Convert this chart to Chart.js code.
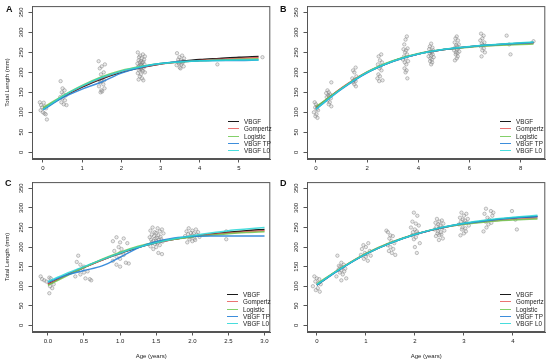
<!DOCTYPE html>
<html>
<head>
<meta charset="utf-8">
<script src="https://cdn.jsdelivr.net/npm/chart.js@4.4.0/dist/chart.umd.min.js"></script>
<style>
  body { margin: 0; background: #fff; font-family: "Liberation Sans", Arial, sans-serif; }
  #wrap { position: relative; width: 550px; height: 364px; overflow: hidden; }
  canvas { position: absolute; }
  .tag { position: absolute; font-weight: bold; font-size: 9px; color: #111; z-index: 2; }
  .legend { position: absolute; font-size: 6.3px; color: #222; z-index: 2; }
  .legend div { display: flex; align-items: center; height: 7.3px; white-space: nowrap; }
  .legend span { display: inline-block; width: 11px; height: 0; border-top: 1.6px solid; margin-right: 5px; }
</style>
</head>
<body>
<div id="wrap">
  <canvas id="cA" width="275" height="182" style="left:0;top:0"></canvas>
  <canvas id="cB" width="275" height="182" style="left:275px;top:0"></canvas>
  <canvas id="cC" width="275" height="188" style="left:0;top:176px"></canvas>
  <canvas id="cD" width="275" height="188" style="left:275px;top:176px"></canvas>
  <div class="tag" style="left:6px;top:4px">A</div>
  <div class="tag" style="left:280px;top:4px">B</div>
  <div class="tag" style="left:5px;top:178px">C</div>
  <div class="tag" style="left:280px;top:178px">D</div>
  <div class="legend" id="legA" style="left:228px;top:118px"></div>
  <div class="legend" id="legB" style="left:500px;top:118px"></div>
  <div class="legend" id="legC" style="left:227px;top:291px"></div>
  <div class="legend" id="legD" style="left:500px;top:291px"></div>
</div>
<script>
// model names and tick labels
const seriesNames = ['VBGF', 'Gompertz', 'Logistic', 'VBGF TP', 'VBGF L0'];
const lengthTicks = [0, 50, 100, 150, 200, 250, 300, 350];
const ageTicksA = [0, 1, 2, 3, 4, 5];
const ageTicksB = [0, 2, 4, 6, 8];
const ageTicksC = [0, 0.5, 1, 1.5, 2, 2.5, 3];
const ageTicksD = [0, 1, 2, 3, 4];

// panel A - observed fish
const obsAgeA = [
  -0.08, -0.05, -0.02, 0.02, 0.05, 0.08, -0.06, 0.0, 0.04, 0.07, 0.1,
  0.45, 0.5, 0.55, 0.48, 0.52, 0.58, 0.44, 0.5, 0.56, 0.47, 0.53, 0.6,
  1.42, 1.58, 1.5, 1.45, 1.55, 1.48, 1.52, 1.44, 1.56, 1.5, 1.46, 1.54, 1.43, 1.57, 1.49, 1.51, 1.47,
  2.42, 2.55, 2.48, 2.6, 2.45, 2.52, 2.58, 2.44, 2.5, 2.56, 2.47, 2.53, 2.41, 2.59, 2.49, 2.51,
  2.46, 2.54, 2.43, 2.57, 2.5, 2.48, 2.52, 2.45, 2.55, 2.6, 2.42, 2.5, 2.47, 2.53, 2.44, 2.56,
  3.42, 3.55, 3.48, 3.6, 3.45, 3.52, 3.58, 3.44, 3.5, 3.56, 3.47, 3.53, 3.41, 3.59, 3.49, 3.51,
  4.45, 5.6
];
const obsLenA = [
  125, 118, 112, 124, 115, 110, 105, 100, 97, 95, 82,
  178, 160, 155, 150, 145, 142, 138, 135, 130, 125, 120, 118,
  228, 220, 215, 210, 200, 195, 185, 182, 180, 178, 175, 170, 165, 160, 155, 152, 150,
  250, 245, 242, 240, 238, 235, 232, 230, 228, 226, 225, 224, 222, 220, 219, 218,
  216, 215, 214, 212, 210, 208, 206, 205, 203, 200, 198, 195, 190, 185, 182, 180,
  248, 242, 238, 235, 232, 230, 228, 226, 225, 224, 222, 220, 218, 215, 212, 210,
  220, 238
];
// panel A - fitted curves
const curveAgeA = [0, 0.5, 1, 1.5, 2, 2.5, 3, 3.5, 4, 4.5, 5, 5.5];
const vbgfA = [108, 138, 163, 184, 200, 212, 221, 227, 232, 235, 238, 240];
const gompA = [109, 139, 165, 186, 202, 213, 221, 226, 230, 233, 235, 237];
const logiA = [112, 141, 167, 189, 205, 215, 222, 226, 229, 231, 233, 234];
const tpA   = [106, 136, 158, 176, 198, 213, 222, 227, 229, 230, 230, 231];
const l0A   = [107, 140, 166, 187, 203, 214, 222, 226, 229, 230, 231, 231];

// panel B
const obsAgeB = [
  -0.05, 0.0, 0.05, -0.03, 0.03, 0.08, -0.08, 0.02, -0.02, 0.06,
  0.6, 0.45, 0.5, 0.4, 0.55, 0.48, 0.52, 0.42, 0.58, 0.46, 0.54, 0.5, 0.6,
  1.55, 1.45, 1.5, 1.58, 1.42, 1.52, 1.48, 1.55, 1.45, 1.5, 1.56,
  2.55, 2.45, 2.5, 2.58, 2.42, 2.52, 2.48, 2.56, 2.44, 2.5, 2.4, 2.6, 2.47,
  3.55, 3.5, 3.45, 3.58, 3.42, 3.52, 3.48, 3.56, 3.44, 3.5, 3.4, 3.6, 3.47, 3.53, 3.46, 3.54, 3.5, 3.57,
  4.5, 4.45, 4.55, 4.42, 4.58, 4.48, 4.52, 4.44, 4.56, 4.5, 4.4, 4.6, 4.47, 4.53, 4.46, 4.54, 4.5,
  5.5, 5.45, 5.55, 5.42, 5.58, 5.48, 5.52, 5.44, 5.56, 5.5, 5.4, 5.6, 5.47, 5.53, 5.46, 5.54, 5.5, 5.43,
  6.45, 6.55, 6.5, 6.42, 6.58, 6.48, 6.52, 6.44, 6.56, 6.5, 6.6, 6.47,
  7.45, 7.6, 7.55, 8.5
];
const obsLenB = [
  125, 120, 115, 112, 108, 105, 100, 95, 90, 86,
  175, 155, 150, 148, 145, 142, 140, 138, 135, 130, 125, 120, 115,
  212, 205, 200, 190, 185, 182, 180, 178, 175, 170, 165,
  245, 240, 230, 225, 220, 215, 210, 205, 195, 190, 185, 180, 178,
  290, 282, 270, 260, 258, 255, 250, 245, 240, 235, 232, 228, 225, 220, 210, 205, 200, 185,
  272, 265, 262, 258, 255, 252, 250, 248, 245, 242, 240, 238, 235, 232, 228, 225, 220,
  290, 285, 280, 275, 270, 268, 265, 262, 260, 258, 255, 252, 250, 248, 245, 240, 235, 230,
  297, 292, 285, 280, 275, 272, 268, 265, 260, 255, 250, 240,
  292, 245, 270, 278
];
const curveAgeB = [0, 1, 2, 3, 4, 5, 6, 7, 8, 8.5];
const vbgfB = [112, 160, 200, 228, 246, 257, 264, 269, 273, 275];
const gompB = [110, 161, 201, 228, 246, 257, 264, 268, 271, 273];
const logiB = [114, 160, 201, 229, 247, 257, 263, 267, 270, 271];
const tpB   = [108, 158, 199, 227, 246, 257, 264, 269, 273, 275];
const l0B   = [108, 159, 200, 228, 246, 258, 265, 270, 274, 276];

// panel C
const obsAgeC = [
  -0.1, -0.08, -0.05, 0.02, 0.04, 0.05, 0.03, 0.06, 0.02, 0.08, -0.02,
  0.42, 0.4, 0.45, 0.5, 0.48, 0.42, 0.55, 0.5, 0.45, 0.38, 0.52, 0.58, 0.6,
  0.95, 1.05, 0.9, 1.0, 1.1, 0.98, 1.02, 0.92, 1.0, 1.05, 0.95, 1.0, 0.9, 1.08, 1.12, 0.95, 1.0,
  1.45, 1.52, 1.58, 1.42, 1.55, 1.48, 1.5, 1.6, 1.44, 1.53, 1.47, 1.56, 1.41, 1.51, 1.49,
  1.57, 1.43, 1.54, 1.46, 1.5, 1.59, 1.44, 1.52, 1.48, 1.55, 1.42, 1.5, 1.46, 1.53, 1.58,
  1.95, 2.05, 2.0, 1.92, 2.08, 1.98, 2.02, 1.94, 2.06, 2.0, 1.9, 2.1, 1.97, 2.03, 1.96, 2.04, 2.0, 1.93,
  2.47, 2.47
];
const obsLenC = [
  125, 118, 115, 122, 120, 110, 100, 95, 82, 105, 112,
  178, 162, 155, 150, 145, 140, 138, 135, 130, 125, 120, 118, 115,
  225, 222, 215, 212, 210, 200, 195, 190, 185, 180, 175, 170, 165, 160, 158, 155, 150,
  250, 248, 245, 242, 240, 238, 236, 235, 232, 230, 228, 226, 225, 224, 222,
  220, 219, 218, 216, 215, 214, 212, 210, 208, 205, 202, 200, 195, 185, 182,
  248, 245, 242, 240, 238, 236, 235, 233, 232, 230, 228, 226, 225, 222, 220, 218, 215, 212,
  220, 240
];
const curveAgeC = [0, 0.25, 0.5, 0.75, 1, 1.25, 1.5, 1.75, 2, 2.25, 2.5, 2.75, 3];
const vbgfC = [105, 128, 148, 167, 184, 199, 211, 220, 227, 233, 238, 242, 245];
const gompC = [105, 127, 148, 167, 185, 200, 211, 220, 227, 232, 236, 239, 242];
const logiC = [102, 125, 148, 169, 187, 202, 213, 220, 226, 230, 234, 237, 239];
const tpC   = [110, 128, 140, 152, 174, 198, 214, 223, 227, 228, 228, 228, 228];
const l0C   = [112, 132, 150, 168, 185, 200, 211, 221, 229, 236, 242, 246, 250];

// panel D
const obsAgeD = [
  -0.05, 0.0, 0.05, -0.03, 0.03, 0.08, -0.08, 0.02, -0.02, 0.06,
  0.42, 0.5, 0.55, 0.45, 0.48, 0.52, 0.58, 0.44, 0.5, 0.56, 0.47, 0.53, 0.4, 0.6, 0.5,
  1.05, 0.95, 1.0, 0.92, 1.08, 0.98, 1.02, 0.9, 1.1, 1.0, 0.96, 1.04,
  1.42, 1.45, 1.5, 1.55, 1.48, 1.52, 1.58, 1.44, 1.5, 1.56, 1.47, 1.53, 1.6,
  1.98, 2.05, 1.95, 2.02, 2.08, 1.92, 2.0, 2.04, 1.96, 2.06, 1.94, 2.02, 1.98, 2.1, 2.0, 2.04,
  2.45, 2.55, 2.5, 2.42, 2.58, 2.48, 2.52, 2.44, 2.56, 2.5, 2.4, 2.6, 2.47, 2.53, 2.46, 2.54, 2.5, 2.43, 2.57, 2.49,
  2.95, 3.05, 3.0, 2.92, 3.08, 2.98, 3.02, 2.94, 3.06, 3.0, 2.9, 3.1, 2.97, 3.03, 2.96, 3.04, 3.0, 2.93,
  3.45, 3.55, 3.6, 3.42, 3.58, 3.48, 3.52, 3.44, 3.56, 3.5, 3.46, 3.4,
  3.98, 4.05, 4.08
];
const obsLenD = [
  125, 120, 118, 112, 108, 105, 100, 95, 90, 86,
  178, 160, 155, 152, 150, 148, 145, 142, 140, 138, 135, 130, 125, 120, 115,
  210, 205, 200, 195, 190, 185, 182, 180, 178, 175, 170, 165,
  242, 238, 230, 228, 222, 215, 210, 205, 200, 195, 190, 185, 180,
  288, 280, 265, 260, 255, 250, 245, 240, 238, 235, 230, 225, 220, 210, 200, 185,
  272, 268, 265, 262, 260, 258, 255, 252, 250, 248, 245, 242, 240, 238, 235, 232, 230, 228, 222, 218,
  288, 285, 280, 275, 272, 270, 268, 265, 262, 260, 258, 255, 250, 248, 245, 240, 235, 230,
  298, 292, 288, 285, 280, 275, 270, 265, 262, 258, 250, 240,
  292, 270, 245
];
const curveAgeD = [0, 0.5, 1, 1.5, 2, 2.5, 3, 3.5, 4, 4.5];
const vbgfD = [103, 146, 182, 210, 232, 248, 260, 268, 274, 278];
const gompD = [104, 147, 183, 211, 232, 248, 259, 266, 271, 274];
const logiD = [106, 147, 184, 212, 233, 248, 258, 265, 269, 272];
const tpD   = [103, 145, 182, 210, 232, 248, 260, 268, 274, 278];
const l0D   = [104, 146, 182, 210, 232, 249, 261, 270, 276, 281];

// styling
const lineColors = ['#1a1a1a', 'rgba(232,90,90,0.85)', 'rgba(110,200,80,0.85)', 'rgba(40,130,215,0.9)', 'rgba(40,215,215,0.85)'];
const axisColor = '#555';
const textColor = '#222';
const fontFamily = '"Liberation Sans", Arial, sans-serif';

// outer box like R's bty="o"
const boxPlugin = {
  id: 'box',
  afterDraw(chart) {
    const { ctx, chartArea: a } = chart;
    ctx.save();
    ctx.strokeStyle = axisColor;
    ctx.lineWidth = 1;
    ctx.strokeRect(a.left + 0.5, a.top + 0.5, a.right - a.left - 1, a.bottom - a.top - 1);
    ctx.restore();
  }
};

function buildLegend(id) {
  const el = document.getElementById(id);
  seriesNames.forEach((name, i) => {
    const row = document.createElement('div');
    const sw = document.createElement('span');
    sw.style.borderTopColor = lineColors[i];
    row.appendChild(sw);
    row.appendChild(document.createTextNode(name));
    el.appendChild(row);
  });
}

function makeChart(id, p) {
  const datasets = [{
    label: 'observed',
    data: p.obsAge.map((a, i) => ({ x: a, y: p.obsLen[i] })),
    showLine: false,
    pointRadius: 1.7,
    borderWidth: 0.7,
    borderColor: 'rgba(115,115,115,0.6)',
    backgroundColor: 'rgba(170,170,170,0.25)',
    order: 10
  }];
  p.curves.forEach((vals, k) => {
    datasets.push({
      label: seriesNames[k],
      data: p.curveAge.map((a, i) => ({ x: a, y: vals[i] })),
      showLine: true,
      pointRadius: 0,
      borderWidth: 1.5,
      borderColor: lineColors[k],
      backgroundColor: lineColors[k],
      cubicInterpolationMode: 'monotone',
      order: 5 - k
    });
  });

  new Chart(document.getElementById(id), {
    type: 'scatter',
    data: { datasets },
    options: {
      responsive: false,
      animation: false,
      devicePixelRatio: 1,
      layout: { padding: { left: 0, right: p.padRight, top: 5, bottom: 0 } },
      plugins: { legend: { display: false }, tooltip: { enabled: false } },
      scales: {
        x: {
          type: 'linear',
          min: p.xMin,
          max: p.xMax,
          afterBuildTicks: s => { s.ticks = p.xTicks.map(v => ({ value: v })); },
          afterFit: s => { s.height = p.xHeight; },
          grid: { display: true, drawOnChartArea: false, drawTicks: true, tickLength: 3.5, color: axisColor },
          border: { display: true, color: axisColor },
          ticks: {
            autoSkip: false, maxRotation: 0, padding: 2, color: textColor,
            font: { size: 6, family: fontFamily },
            callback: v => p.xDecimals ? v.toFixed(p.xDecimals) : String(v)
          },
          title: {
            display: !!p.xTitle, text: p.xTitle || '', color: textColor,
            font: { size: 6, family: fontFamily }, padding: { top: 0, bottom: 4 }
          }
        },
        y: {
          type: 'linear',
          min: -17,
          max: 366,
          afterBuildTicks: s => { s.ticks = lengthTicks.map(v => ({ value: v })); },
          afterFit: s => { s.width = 32; },
          grid: { display: true, drawOnChartArea: false, drawTicks: true, tickLength: 3.5, color: axisColor },
          border: { display: true, color: axisColor },
          ticks: {
            autoSkip: false, minRotation: 90, maxRotation: 90, crossAlign: 'center',
            padding: 2.5, color: textColor, font: { size: 6, family: fontFamily }
          },
          title: {
            display: !!p.yTitle, text: p.yTitle || '', color: textColor,
            font: { size: 6, family: fontFamily }, padding: { top: 3.5, bottom: 0 }
          }
        }
      }
    },
    plugins: [boxPlugin]
  });
}

makeChart('cA', {
  obsAge: obsAgeA, obsLen: obsLenA, curveAge: curveAgeA, curves: [vbgfA, gompA, logiA, tpA, l0A],
  xMin: -0.28, xMax: 5.8, xTicks: ageTicksA, xHeight: 23, padRight: 2, yTitle: 'Total Length (mm)'
});
makeChart('cB', {
  obsAge: obsAgeB, obsLen: obsLenB, curveAge: curveAgeB, curves: [vbgfB, gompB, logiB, tpB, l0B],
  xMin: -0.35, xMax: 8.96, xTicks: ageTicksB, xHeight: 23, padRight: 1
});
makeChart('cC', {
  obsAge: obsAgeC, obsLen: obsLenC, curveAge: curveAgeC, curves: [vbgfC, gompC, logiC, tpC, l0C],
  xMin: -0.22, xMax: 3.08, xTicks: ageTicksC, xHeight: 32, padRight: 2, xDecimals: 1,
  yTitle: 'Total Length (mm)', xTitle: 'Age (years)'
});
makeChart('cD', {
  obsAge: obsAgeD, obsLen: obsLenD, curveAge: curveAgeD, curves: [vbgfD, gompD, logiD, tpD, l0D],
  xMin: -0.2, xMax: 4.66, xTicks: ageTicksD, xHeight: 32, padRight: 1, xTitle: 'Age (years)'
});

['legA', 'legB', 'legC', 'legD'].forEach(buildLegend);
</script>
</body>
</html>
